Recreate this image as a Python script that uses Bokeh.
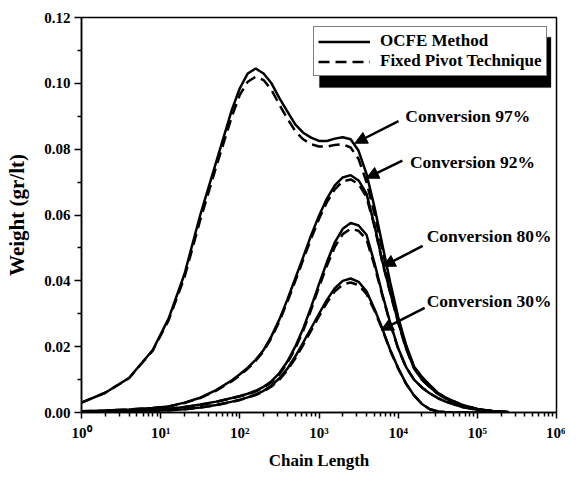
from bokeh.plotting import figure
from bokeh.models import (Range1d, FixedTicker, NumeralTickFormatter, Legend, LegendItem,
                          Arrow, NormalHead, BoxAnnotation, CustomJSTickFormatter)
from bokeh.core.properties import value
from bokeh.embed import file_html
from bokeh.resources import INLINE

# ---------------- data ----------------
log_chain = [0, 0.3, 0.6, 0.9, 1.1, 1.3, 1.5, 1.7, 1.9, 2.0, 2.1, 2.2, 2.3, 2.4, 2.5, 2.6, 2.7,
             2.8, 2.9, 3.0, 3.1, 3.2, 3.3, 3.4, 3.5, 3.6, 3.7, 3.8, 3.9, 4.0, 4.1, 4.2, 4.3, 4.4,
             4.5, 4.6, 4.8, 5.0, 5.2, 5.4]
chain_length = [10 ** v for v in log_chain]

ocfe_97 = [0.0030, 0.0060, 0.0105, 0.0190, 0.0285, 0.0420, 0.0600, 0.0760, 0.0920, 0.0985,
           0.1030, 0.1045, 0.1030, 0.1000, 0.0955, 0.0915, 0.0875, 0.0850, 0.0835, 0.0825,
           0.0825, 0.0832, 0.0836, 0.0830, 0.0795, 0.0725, 0.0625, 0.0510, 0.0395, 0.0290,
           0.0205, 0.0140, 0.0108, 0.0083, 0.0060, 0.0045, 0.0024, 0.0011, 0.0004, 0.0001]
fpt_97 = [0.0030, 0.0060, 0.0104, 0.0188, 0.0280, 0.0410, 0.0585, 0.0745, 0.0900, 0.0965,
          0.1005, 0.1020, 0.1010, 0.0980, 0.0935, 0.0893, 0.0855, 0.0830, 0.0815, 0.0808,
          0.0808, 0.0813, 0.0815, 0.0805, 0.0770, 0.0700, 0.0605, 0.0495, 0.0385, 0.0285,
          0.0202, 0.0139, 0.0107, 0.0082, 0.0060, 0.0045, 0.0024, 0.0011, 0.0004, 0.0001]
ocfe_92 = [0.0004, 0.0006, 0.0009, 0.0014, 0.0018, 0.0030, 0.0045, 0.0068, 0.0098, 0.0116,
           0.0136, 0.0160, 0.0190, 0.0232, 0.0283, 0.0343, 0.0407, 0.0472, 0.0538, 0.0598,
           0.0650, 0.0690, 0.0714, 0.0721, 0.0705, 0.0665, 0.0570, 0.0460, 0.0365, 0.0275,
           0.0195, 0.0135, 0.0100, 0.0077, 0.0057, 0.0042, 0.0021, 0.0010, 0.0004, 0.0001]
fpt_92 = [0.0004, 0.0006, 0.0009, 0.0014, 0.0018, 0.0029, 0.0044, 0.0066, 0.0095, 0.0113,
          0.0133, 0.0157, 0.0186, 0.0227, 0.0277, 0.0336, 0.0399, 0.0464, 0.0528, 0.0588,
          0.0639, 0.0678, 0.0702, 0.0708, 0.0694, 0.0655, 0.0565, 0.0457, 0.0363, 0.0273,
          0.0194, 0.0134, 0.0100, 0.0077, 0.0057, 0.0042, 0.0021, 0.0010, 0.0004, 0.0001]
ocfe_80 = [0.0002, 0.0003, 0.0005, 0.0008, 0.0011, 0.0017, 0.0024, 0.0033, 0.0044, 0.0050,
           0.0057, 0.0066, 0.0078, 0.0095, 0.0120, 0.0155, 0.0200, 0.0255, 0.0320, 0.0390,
           0.0457, 0.0517, 0.0558, 0.0576, 0.0568, 0.0540, 0.0455, 0.0360, 0.0272, 0.0195,
           0.0138, 0.0100, 0.0076, 0.0058, 0.0044, 0.0033, 0.0017, 0.0008, 0.0003, 0.0001]
fpt_80 = [0.0002, 0.0003, 0.0005, 0.0008, 0.0011, 0.0017, 0.0023, 0.0032, 0.0043, 0.0049,
          0.0055, 0.0064, 0.0076, 0.0092, 0.0116, 0.0150, 0.0194, 0.0248, 0.0312, 0.0381,
          0.0446, 0.0503, 0.0542, 0.0558, 0.0552, 0.0526, 0.0447, 0.0355, 0.0270, 0.0194,
          0.0137, 0.0100, 0.0076, 0.0058, 0.0044, 0.0033, 0.0017, 0.0008, 0.0003, 0.0001]
ocfe_30 = [0.0001, 0.0002, 0.0003, 0.0005, 0.0007, 0.0010, 0.0015, 0.0023, 0.0033, 0.0039,
           0.0046, 0.0055, 0.0066, 0.0082, 0.0104, 0.0133, 0.0170, 0.0212, 0.0256, 0.0300,
           0.0342, 0.0378, 0.0400, 0.0407, 0.0397, 0.0368, 0.0315, 0.0255, 0.0190, 0.0135,
           0.0088, 0.0052, 0.0026, 0.0010, 0.0004, 0.0001, 0.0, 0.0, 0.0, 0.0]
fpt_30 = [0.0001, 0.0002, 0.0003, 0.0005, 0.0007, 0.0010, 0.0015, 0.0022, 0.0032, 0.0038,
          0.0045, 0.0053, 0.0064, 0.0079, 0.0100, 0.0128, 0.0164, 0.0205, 0.0249, 0.0292,
          0.0334, 0.0368, 0.0389, 0.0395, 0.0387, 0.0360, 0.0310, 0.0252, 0.0188, 0.0134,
          0.0087, 0.0052, 0.0026, 0.0010, 0.0004, 0.0001, 0.0, 0.0, 0.0, 0.0]

x_ticks = [1, 10, 100, 1000, 10000, 100000, 1000000]
y_ticks = [0.0, 0.02, 0.04, 0.06, 0.08, 0.10, 0.12]
y_minor = [0.01, 0.03, 0.05, 0.07, 0.09, 0.11]

# annotation labels and arrows (data coordinates)
note_text = ["Conversion 97%", "Conversion 92%", "Conversion 80%", "Conversion 30%"]
note_x = [12300, 14100, 22900, 22900]
note_y = [0.0900, 0.0762, 0.0535, 0.0338]
arrow_x0 = [10100, 11300, 20400, 21600]
arrow_y0 = [0.0885, 0.0765, 0.0506, 0.0318]
arrow_x1 = [2840, 3980, 6430, 6070]
arrow_y1 = [0.0818, 0.0712, 0.0444, 0.0250]

FONT = "Liberation Serif"

p = figure(width=565, height=472, x_axis_type="log",
           x_range=Range1d(1, 1e6), y_range=Range1d(0, 0.12),
           output_backend="svg", toolbar_location=None,
           min_border_left=81, min_border_right=9, min_border_top=17, min_border_bottom=55)
p.grid.visible = False
p.outline_line_color = "black"
p.outline_line_width = 1.5
p.background_fill_color = "white"
p.border_fill_color = "white"

x_minor = [m * d for d in x_ticks[:-1] for m in range(2, 10)]
p.xaxis.ticker = FixedTicker(ticks=x_ticks, minor_ticks=x_minor)
p.xaxis.formatter = CustomJSTickFormatter(code="""
const sup = ['\u2070','\u00b9','\u00b2','\u00b3','\u2074','\u2075','\u2076'];
return '10' + sup[Math.round(Math.log10(tick))];
""")
p.yaxis.ticker = FixedTicker(ticks=y_ticks, minor_ticks=y_minor)
p.yaxis.formatter = NumeralTickFormatter(format="0.00")

for ax in (p.xaxis[0], p.yaxis[0]):
    ax.axis_line_width = 1.5
    ax.major_tick_line_width = 1.5
    ax.minor_tick_line_width = 1.5
    ax.major_tick_in = 0
    ax.minor_tick_in = 0
    ax.major_label_text_font = FONT
    ax.major_label_text_font_style = "bold"
    ax.major_label_text_font_size = "15px"
    ax.major_label_text_color = "black"
    ax.axis_label_text_font = FONT
    ax.axis_label_text_font_style = "bold"
    ax.axis_label_text_color = "black"

p.xaxis.major_tick_out = 6
p.xaxis.minor_tick_out = 4
p.xaxis.major_label_standoff = 6
p.xaxis.axis_label = "Chain Length"
p.xaxis.axis_label_text_font_size = "17px"
p.xaxis.axis_label_standoff = 7

p.yaxis.major_tick_out = 7
p.yaxis.minor_tick_out = 4
p.yaxis.major_label_standoff = 4
p.yaxis.axis_label = "Weight (gr/lt)"
p.yaxis.axis_label_text_font_size = "21px"
p.yaxis.axis_label_standoff = 12

LW = 2.5
DASH = "11 6"
solid_r = None
dash_r = None
for solid, dashed in [(ocfe_97, fpt_97), (ocfe_92, fpt_92), (ocfe_80, fpt_80), (ocfe_30, fpt_30)]:
    r1 = p.line(chain_length, solid, line_color="black", line_width=LW)
    r2 = p.line(chain_length, dashed, line_color="black", line_width=LW, line_dash=DASH)
    if solid_r is None:
        solid_r, dash_r = r1, r2

for xs, ys, xe, ye in zip(arrow_x0, arrow_y0, arrow_x1, arrow_y1):
    p.add_layout(Arrow(x_start=xs, y_start=ys, x_end=xe, y_end=ye, line_width=2.5,
                       line_color="black",
                       end=NormalHead(size=12, fill_color="black", line_color="black")))

p.text(x=note_x, y=note_y, text=note_text, text_font=value(FONT), text_font_style="bold",
       text_font_size="17.5px", text_baseline="middle", text_align="left", text_color="black")

# legend with drop shadow
shadow = BoxAnnotation(left=10 ** 3.006, right=10 ** 5.93, top=0.1140, bottom=0.0987,
                       fill_color="black", fill_alpha=1.0, line_color="black", level="annotation")
p.add_layout(shadow)
legend = Legend(items=[LegendItem(label="OCFE Method", renderers=[solid_r]),
                       LegendItem(label="Fixed Pivot Technique", renderers=[dash_r])],
                location=(232, 336), padding=4, spacing=0, margin=0,
                glyph_width=52, glyph_height=17, label_height=17, label_standoff=10,
                label_text_font=FONT, label_text_font_style="bold", label_text_font_size="17px",
                label_text_color="black",
                border_line_color="black", border_line_width=1.5,
                background_fill_color="white", background_fill_alpha=1.0)
p.add_layout(legend)

open("out.html", "w").write(file_html(p, INLINE))
